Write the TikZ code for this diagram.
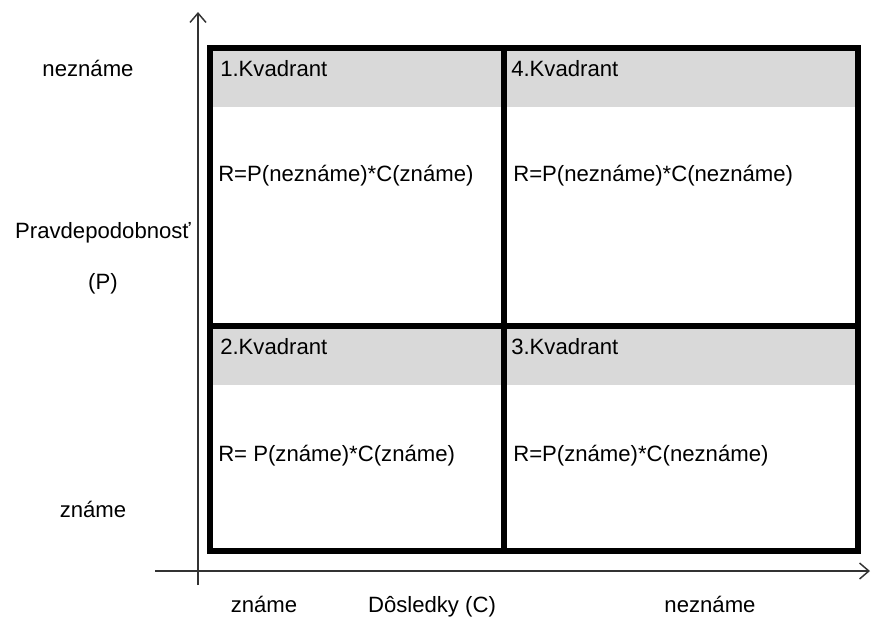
\documentclass[tikz,border=0pt]{standalone}
\usepackage{fontspec}
\setmainfont{Liberation Sans}
\usepackage{tikz}
\usetikzlibrary{arrows.meta, positioning}

\begin{document}
\begin{tikzpicture}[x=0.75pt,y=-0.75pt,>={Straight Barb[length=7pt,width=12pt]},
        every node/.style={font=\fontsize{16.6}{19}\selectfont,inner sep=0pt},
        axis/.style={draw=black!80,line width=1.1pt},
        band/.style={fill=black!15},
        grid/.style={draw=black,line width=4.6pt,line cap=rect}]

        \useasboundingbox (0,0) rectangle (872,618);

        % gray title bands
        \fill[band] (210,48) rectangle (858,107);
        \fill[band] (210,326) rectangle (858,385);

        % the four quadrants
        \draw[grid] (210,48) rectangle (858,551);
        \draw[grid] (504,48) -- (504,551);
        \draw[grid] (210,326) -- (858,326);

        % axes
        \coordinate (y_0) at (198,585);
        \coordinate (y_1) at (198,12);
        \coordinate (x_0) at (155,571);
        \coordinate (x_1) at (870,571);
        \draw[axis,->] (y_0) -- (y_1);
        \draw[axis,->] (x_0) -- (x_1);

        % quadrant texts
        \node[anchor=base west] (kv_1) at (220,76) {1.Kvadrant};
        \node[anchor=base west] (kv_4) at (511,76) {4.Kvadrant};
        \node[anchor=base west] (kv_2) at (220,354) {2.Kvadrant};
        \node[anchor=base west] (kv_3) at (511,354) {3.Kvadrant};
        \node[anchor=base west] (r_1) at (218,181) {R=P(neznáme)*C(známe)};
        \node[anchor=base west] (r_4) at (513,181) {R=P(neznáme)*C(neznáme)};
        \node[anchor=base west] (r_2) at (218,461) {R= P(známe)*C(známe)};
        \node[anchor=base west] (r_3) at (513,461) {R=P(známe)*C(neznáme)};

        % axis labels
        \node[anchor=base] (p_hi) at (88,76) {neznáme};
        \node[anchor=base] (p_name) at (103,238) {Pravdepodobnosť};
        \node[anchor=base] (p_sym) at (103,289) {(P)};
        \node[anchor=base] (p_lo) at (93,517) {známe};
        \node[anchor=base] (c_lo) at (264,612) {známe};
        \node[anchor=base] (c_name) at (432,612) {Dôsledky (C)};
        \node[anchor=base] (c_hi) at (710,612) {neznáme};
\end{tikzpicture}
\end{document}
